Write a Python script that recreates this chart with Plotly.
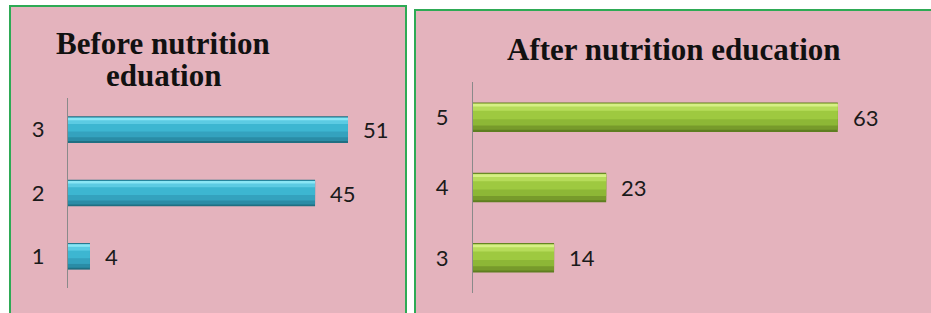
import plotly.graph_objects as go

W, H = 931, 313

# ---- data ----
before_cats = ["1", "2", "3"]
before_vals = [4, 45, 51]
after_cats = ["3", "4", "5"]
after_vals = [14, 23, 63]
before_title_lines = ["Before nutrition", "eduation"]
after_title = "After nutrition education"

PINK = "#E4B3BD"
GREEN_BORDER = "#2EAA55"

def px(x):
    return x / W

def py(y):
    return 1 - y / H

fig = go.Figure()

def add_bars(vals, cats, xa, ya, layers):
    pos = list(range(len(cats)))
    for color, w, off in layers:
        fig.add_trace(go.Bar(
            x=vals, y=pos, orientation="h",
            width=[w] * len(vals), offset=[off] * len(vals),
            marker=dict(color=color, line=dict(width=0)),
            xaxis=xa, yaxis=ya, showlegend=False, hoverinfo="skip",
        ))
    return pos

blue_layers = [
    ("#1F6F82", 0.42, -0.21),
    ("#2A8CA6", 0.38, -0.18),
    ("#34A2BE", 0.30, -0.12),
    ("#3DB6D1", 0.20, -0.03),
    ("#5CCBE3", 0.10, 0.09),
    ("#8AE6F5", 0.04, 0.15),
]
green_layers = [
    ("#5E7E20", 0.42, -0.21),
    ("#779A2B", 0.38, -0.18),
    ("#8DB736", 0.30, -0.12),
    ("#9EC940", 0.20, -0.03),
    ("#B6DC5A", 0.10, 0.09),
    ("#D6F085", 0.04, 0.15),
]
pos_b = add_bars(before_vals, before_cats, "x", "y", blue_layers)
pos_a = add_bars(after_vals, after_cats, "x2", "y2", green_layers)

vfont = dict(family="Lato", size=22, color="#1a1a1a")
for v, p in zip(before_vals, pos_b):
    fig.add_annotation(x=v, y=p, xref="x", yref="y", text=str(v),
                       showarrow=False, xanchor="left", xshift=13, font=vfont)
for v, p in zip(after_vals, pos_a):
    fig.add_annotation(x=v, y=p, xref="x2", yref="y2", text=str(v),
                       showarrow=False, xanchor="left", xshift=13, font=vfont)

# titles
tfont = dict(family="Liberation Serif", size=31, color="#111111")
fig.add_annotation(x=px(163), y=py(43), xref="paper", yref="paper",
                   text="<b>%s</b>" % before_title_lines[0], showarrow=False,
                   xanchor="center", yanchor="middle", font=tfont)
fig.add_annotation(x=px(163), y=py(75), xref="paper", yref="paper",
                   text="<b>%s</b>" % before_title_lines[1], showarrow=False,
                   xanchor="center", yanchor="middle", font=tfont)
fig.add_annotation(x=px(674), y=py(49), xref="paper", yref="paper",
                   text="<b>%s</b>" % after_title, showarrow=False,
                   xanchor="center", yanchor="middle", font=tfont)

# panels
fig.add_shape(type="rect", xref="paper", yref="paper",
              x0=px(10), x1=px(406), y0=py(330), y1=py(6),
              fillcolor=PINK, line=dict(color=GREEN_BORDER, width=2), layer="below")
fig.add_shape(type="rect", xref="paper", yref="paper",
              x0=px(415), x1=px(945), y0=py(330), y1=py(10),
              fillcolor=PINK, line=dict(color=GREEN_BORDER, width=2), layer="below")

tick_font = dict(family="Lato", size=22, color="#1a1a1a")
left_scale = 5.49
right_scale = 5.79
fig.update_layout(
    width=W, height=H,
    margin=dict(l=0, r=0, t=0, b=0),
    paper_bgcolor="white",
    plot_bgcolor="rgba(0,0,0,0)",
    barmode="overlay",
    xaxis=dict(domain=[px(68), px(406)], range=[0, (406 - 68) / left_scale],
               visible=False, fixedrange=True),
    yaxis=dict(domain=[py(288), py(98)], range=[-0.5, 2.5],
               tickvals=pos_b, ticktext=before_cats, showline=True,
               linecolor="#8a8a8a", linewidth=1, showgrid=False, zeroline=False,
               ticks="", ticklabelstandoff=18, tickfont=tick_font, fixedrange=True),
    xaxis2=dict(domain=[px(473), 1.0], range=[0, (931 - 473) / right_scale],
                visible=False, anchor="y2", fixedrange=True),
    yaxis2=dict(domain=[py(293), py(82)], range=[-0.5, 2.5], anchor="x2",
                tickvals=pos_a, ticktext=after_cats, showline=True,
                linecolor="#8a8a8a", linewidth=1, showgrid=False, zeroline=False,
                ticks="", ticklabelstandoff=19, tickfont=tick_font, fixedrange=True),
)

fig.write_html("out.html", config={"displayModeBar": False},
               post_script="document.body.style.margin='0';document.body.style.overflow='hidden';")
